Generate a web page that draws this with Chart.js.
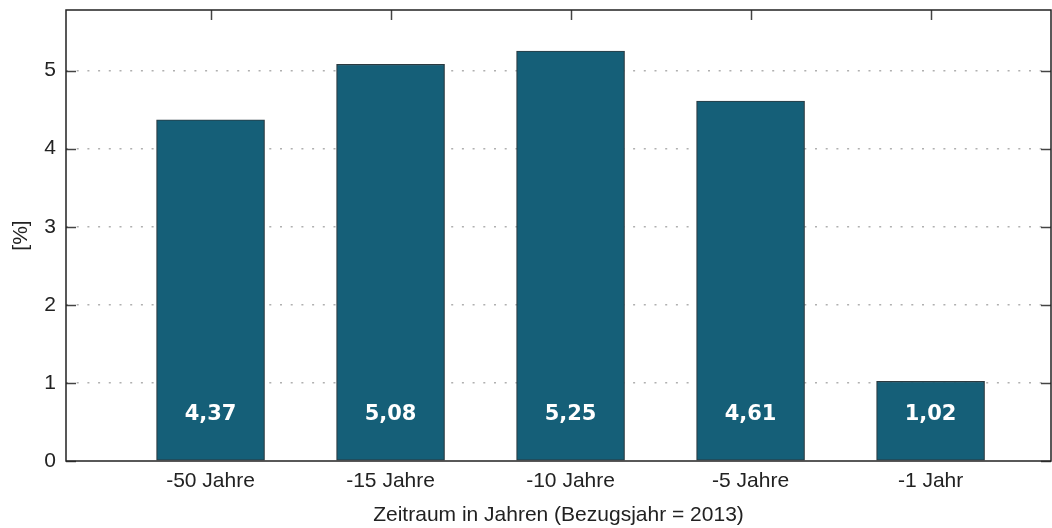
<!DOCTYPE html>
<html><head><meta charset="utf-8">
<script src="https://cdn.jsdelivr.net/npm/chart.js@4"></script>
<style>html,body{margin:0;padding:0;background:#fff}#wrap{width:1052px;height:528px}</style>
</head><body><div id="wrap"><canvas id="c"></canvas></div>
<script>
const categories = ['-50 Jahre', '-15 Jahre', '-10 Jahre', '-5 Jahre', '-1 Jahr'];
const values = [4.37, 5.08, 5.25, 4.61, 1.02];
const valueLabels = ['4,37', '5,08', '5,25', '4,61', '1,02'];
const yTicks = [0, 1, 2, 3, 4, 5];
const xTitle = 'Zeitraum in Jahren (Bezugsjahr = 2013)';
const yTitle = '[%]';

const FONT = "'Liberation Sans', Arial, sans-serif";
const points = values.map((v, i) => ({x: i + 1, y: v}));

const framePlugin = {
  id: 'frame',
  afterDatasetsDraw(chart) {
    const {ctx, chartArea: a, scales: {x, y}} = chart;
    ctx.save();
    // value labels
    ctx.fillStyle = '#ffffff';
    ctx.font = "bold 21px 'DejaVu Sans', sans-serif";
    ctx.textAlign = 'center';
    ctx.textBaseline = 'middle';
    const base = y.getPixelForValue(0);
    valueLabels.forEach((t, i) => {
      ctx.fillText(t, x.getPixelForValue(i + 1), base - 46.5);
    });
    // ticks inside
    ctx.strokeStyle = '#444';
    ctx.lineWidth = 1.5;
    yTicks.forEach(v => {
      const py = Math.round(y.getPixelForValue(v)) + 0.5;
      ctx.beginPath(); ctx.moveTo(a.left, py); ctx.lineTo(a.left + 10, py); ctx.stroke();
      ctx.beginPath(); ctx.moveTo(a.right, py); ctx.lineTo(a.right - 10, py); ctx.stroke();
    });
    categories.forEach((c, i) => {
      const px = Math.round(x.getPixelForValue(i + 1)) + 0.5;
      ctx.beginPath(); ctx.moveTo(px, a.top); ctx.lineTo(px, a.top + 10); ctx.stroke();
    });
    // frame
    ctx.strokeStyle = '#222';
    ctx.lineWidth = 1.5;
    ctx.strokeRect(a.left, a.top, a.right - a.left, a.bottom - a.top);
    ctx.restore();
  }
};

new Chart(document.getElementById('c'), {
  type: 'bar',
  data: {
    datasets: [{
      data: points,
      backgroundColor: '#155f78',
      borderColor: '#2b3a40',
      borderWidth: 1.2,
      barThickness: 108,
      borderSkipped: false
    }]
  },
  options: {
    responsive: true,
    maintainAspectRatio: false,
    animation: false,
    devicePixelRatio: 1,
    layout: {padding: {top: 10, right: 1, left: 0, bottom: 0}},
    plugins: {legend: {display: false}, tooltip: {enabled: false}},
    scales: {
      x: {
        type: 'linear',
        offset: false,
        min: 0.197,
        max: 5.669,
        afterBuildTicks(s) { s.ticks = categories.map((c, i) => ({value: i + 1})); },
        afterFit(s) { s.height = 67; s.paddingLeft = 0; s.paddingRight = 0; },
        ticks: {
          callback: (v) => categories[v - 1],
          font: {family: FONT, size: 21},
          color: '#222',
          padding: 8,
          maxRotation: 0,
          autoSkip: false
        },
        grid: {display: false, drawTicks: false, offset: false},
        border: {display: false},
        title: {display: true, text: xTitle, font: {family: FONT, size: 21}, color: '#222', padding: {top: 6, bottom: 0}}
      },
      y: {
        min: 0,
        max: 5.775,
        afterBuildTicks(s) { s.ticks = yTicks.map(v => ({value: v})); },
        afterFit(s) { s.width = 66; s.paddingTop = 0; s.paddingBottom = 0; },
        ticks: {
          font: {family: FONT, size: 21},
          color: '#222',
          padding: 10
        },
        grid: {
          color: (c) => c.tick && c.tick.value === 0 ? 'rgba(0,0,0,0)' : '#b0b0b0',
          lineWidth: 1.5,
          drawTicks: false
        },
        border: {display: false, dash: [2, 8.7]},
        title: {display: true, text: yTitle, font: {family: FONT, size: 21}, color: '#222', padding: {top: 9, bottom: 4}}
      }
    }
  },
  plugins: [framePlugin]
});
</script></body></html>
